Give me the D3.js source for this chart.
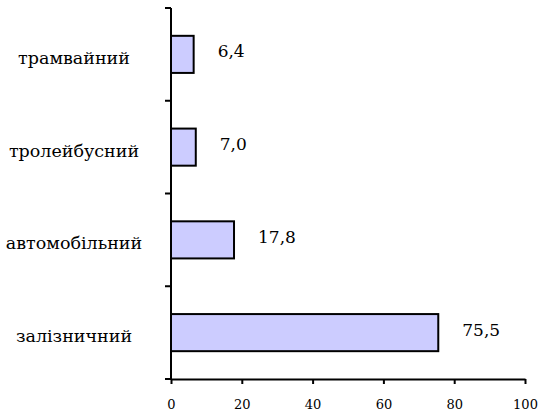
<!DOCTYPE html>
<html lang="uk">
<head>
<meta charset="UTF-8">
<title>Bar chart</title>
<style>
  body { margin: 0; background: #fff; }
  .bar { fill: #ccccff; stroke: #000; stroke-width: 2px; }
  .axis path, .axis line { stroke: #000; stroke-width: 2px; }
</style>
</head>
<body>
<svg id="chart" width="546" height="412"></svg>
<script src="https://d3js.org/d3.v7.min.js"></script>
<script>
const categories = ["трамвайний", "тролейбусний", "автомобільний", "залізничний"];
const values = [6.4, 7.0, 17.8, 75.5];
const xTicks = [0, 20, 40, 60, 80, 100];

const font = "DejaVu Serif";
const svg = d3.select("#chart").attr("font-family", font);
const plotLeft = 171, plotRight = 525, plotTop = 8, plotBottom = 379;

const x = d3.scaleLinear().domain([0, 100]).range([plotLeft, plotRight]);
const y = d3.scaleBand().domain(categories).range([plotTop, plotBottom]).paddingInner(0.6).paddingOuter(0.3);

// band edges for y axis ticks
const edges = d3.range(categories.length + 1).map(i => plotTop + i * (plotBottom - plotTop) / categories.length);

// bars
svg.selectAll(".bar")
  .data(values)
  .enter()
  .append("rect")
  .attr("class", "bar")
  .attr("x", x(0))
  .attr("y", (d, i) => y(categories[i]))
  .attr("width", d => x(d) - x(0))
  .attr("height", y.bandwidth());

// value labels
svg.selectAll(".val")
  .data(values)
  .enter()
  .append("text")
  .attr("class", "val")
  .attr("x", d => x(d) + 24)
  .attr("y", (d, i) => y(categories[i]) + y.bandwidth() / 2 + 3)
  .attr("font-size", 17)
  .text(d => d.toFixed(1).replace(".", ","));

// category labels (centred in the left margin)
svg.selectAll(".cat")
  .data(categories)
  .enter()
  .append("text")
  .attr("class", "cat")
  .attr("x", 74)
  .attr("y", d => y(d) + y.bandwidth() / 2 + 9.5)
  .attr("text-anchor", "middle")
  .attr("font-size", 17.5)
  .text(d => d);

// y axis line + ticks at band edges
const yAxis = svg.append("g").attr("class", "axis");
yAxis.append("line").attr("x1", plotLeft).attr("x2", plotLeft).attr("y1", plotTop).attr("y2", plotBottom);
yAxis.selectAll(".yt")
  .data(edges)
  .enter()
  .append("line")
  .attr("x1", plotLeft - 6).attr("x2", plotLeft)
  .attr("y1", d => d).attr("y2", d => d);

// x axis
const xAxis = svg.append("g")
  .attr("class", "axis")
  .attr("transform", `translate(0,${plotBottom})`)
  .call(d3.axisBottom(x).tickValues(xTicks).tickSize(5).tickSizeOuter(0));
xAxis.attr("font-family", font);
xAxis.selectAll("text")
  .attr("font-size", 13)
  .attr("fill", "#000")
  .attr("dy", null)
  .attr("y", 30);
</script>
</body>
</html>
